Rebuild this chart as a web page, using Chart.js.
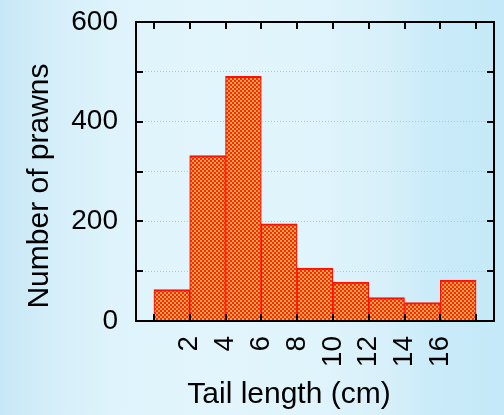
<!DOCTYPE html>
<html>
<head>
<meta charset="utf-8">
<script src="https://cdn.jsdelivr.net/npm/chart.js@4.4.1/dist/chart.umd.min.js"></script>
<style>
  html, body { margin: 0; padding: 0; }
  body {
    width: 504px; height: 415px; overflow: hidden;
    background:
      linear-gradient(90deg,
        #c8e7f6 0%, #d4eef9 10%, #def3fb 22%, #e2f5fc 40%,
        #e0f4fc 62%, #d8f0fa 76%, #caebf9 86%, #c5e9f8 100%);
  }
  #wrap { position: relative; width: 504px; height: 415px; }
</style>
</head>
<body>
<div id="wrap"><canvas id="chart" width="504" height="415"></canvas></div>
<script>
// Histogram of prawn tail lengths, 2 cm bins
const binStarts = [0, 2, 4, 6, 8, 10, 12, 14, 16];
const binWidth = 2;
const prawnCounts = [63, 332, 491, 195, 106, 78, 47, 37, 82];

// Axis ticks
const xTickValues = [0, 2, 4, 6, 8, 10, 12, 14, 16, 18];
const xTickLabels = ['', '2', '4', '6', '8', '10', '12', '14', '16', ''];
const yTickValues = [0, 100, 200, 300, 400, 500, 600];
const yTickLabels = ['0', '', '200', '', '400', '', '600'];

const xTitle = 'Tail length (cm)';
const yTitle = 'Number of prawns';

const FONT = "'Liberation Sans', Arial, Helvetica, sans-serif";

// Checkered red/orange fill for the bars
function makeHatch() {
  const t = document.createElement('canvas');
  t.width = 4; t.height = 4;
  const c = t.getContext('2d');
  c.fillStyle = '#ff2a00';
  c.fillRect(0, 0, 4, 4);
  c.fillStyle = '#f5a452';
  c.fillRect(0, 0, 2, 2);
  c.fillRect(2, 2, 2, 2);
  return t;
}
const ctx = document.getElementById('chart').getContext('2d');
const hatch = ctx.createPattern(makeHatch(), 'repeat');

// Keep the plot box fixed: no extra room for overhanging labels
function noOverhang(s) {
  s.paddingLeft = 0; s.paddingRight = 0;
  s.paddingTop = 0; s.paddingBottom = 0;
}

// Frame with inward tick marks on all four sides, plus axis captions
const framePlugin = {
  id: 'frame',
  afterDatasetsDraw(chart) {
    const { ctx, chartArea: a, scales } = chart;
    const xs = scales.x, ys = scales.y;
    const tl = 7;
    ctx.save();
    ctx.strokeStyle = '#000';
    ctx.lineWidth = 2;
    ctx.beginPath();
    xTickValues.forEach(v => {
      const px = Math.round(xs.getPixelForValue(v));
      ctx.moveTo(px, a.bottom); ctx.lineTo(px, a.bottom - tl);
      ctx.moveTo(px, a.top); ctx.lineTo(px, a.top + tl);
    });
    yTickValues.forEach(v => {
      const py = Math.round(ys.getPixelForValue(v));
      ctx.moveTo(a.left, py); ctx.lineTo(a.left + tl, py);
      ctx.moveTo(a.right, py); ctx.lineTo(a.right - tl, py);
    });
    ctx.stroke();
    ctx.strokeRect(a.left, a.top, a.right - a.left, a.bottom - a.top);

    ctx.fillStyle = '#000';
    ctx.font = '30px ' + FONT;
    ctx.textAlign = 'center';
    ctx.textBaseline = 'middle';
    ctx.fillText(xTitle, 289, 395);
    ctx.translate(40, 186);
    ctx.rotate(-Math.PI / 2);
    ctx.fillText(yTitle, 0, 0);
    ctx.restore();
  }
};

new Chart(ctx, {
  type: 'bar',
  data: {
    datasets: [{
      data: binStarts.map((s, i) => ({ x: s + binWidth / 2, y: prawnCounts[i] })),
      backgroundColor: hatch,
      borderColor: '#ff1000',
      borderWidth: { top: 2, left: 1.2, right: 1.2, bottom: 0 },
      borderSkipped: false,
      categoryPercentage: 1,
      barPercentage: 1
    }]
  },
  options: {
    responsive: false,
    animation: false,
    events: [],
    layout: { padding: { top: 22, right: 10, left: 0, bottom: 0 } },
    plugins: { legend: { display: false }, tooltip: { enabled: false } },
    scales: {
      x: {
        type: 'linear',
        min: -1,
        max: 19,
        offset: false,
        afterBuildTicks: s => { s.ticks = xTickValues.map(v => ({ value: v })); },
        afterFit: s => { s.height = 94; noOverhang(s); },
        grid: { display: false, drawTicks: false },
        border: { display: false },
        ticks: {
          minRotation: 90,
          maxRotation: 90,
          autoSkip: false,
          padding: 15,
          color: '#000',
          font: { family: FONT, size: 28 },
          callback: v => xTickLabels[xTickValues.indexOf(v)] ?? ''
        }
      },
      y: {
        min: 0,
        max: 600,
        afterBuildTicks: s => { s.ticks = yTickValues.map(v => ({ value: v })); },
        afterFit: s => { s.width = 136; noOverhang(s); },
        grid: {
          drawTicks: false,
          lineWidth: 1,
          color: c => (c.tick && (c.tick.value === 0 || c.tick.value === 600)) ? 'rgba(0,0,0,0)' : 'rgba(185,190,195,0.9)'
        },
        border: { display: false, dash: [1, 2] },
        ticks: {
          padding: 18,
          autoSkip: false,
          color: '#000',
          font: { family: FONT, size: 28 },
          callback: v => yTickLabels[yTickValues.indexOf(v)] ?? ''
        }
      }
    }
  },
  plugins: [framePlugin]
});
</script>
</body>
</html>
